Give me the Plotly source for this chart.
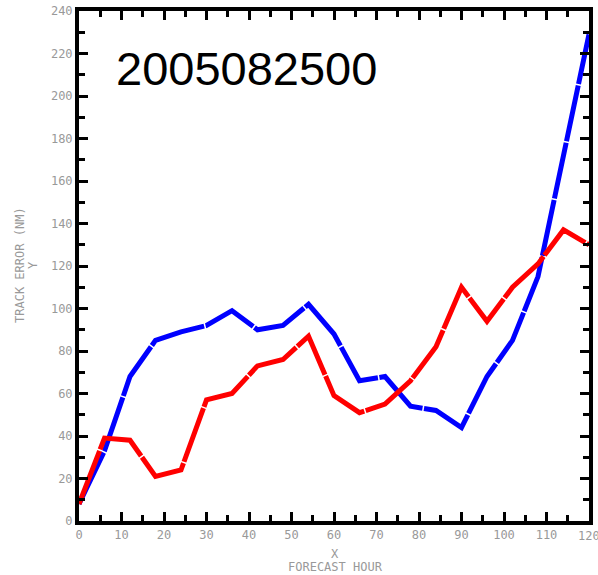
import plotly.graph_objects as go

# Forecast hours and track errors (nautical miles) for the two models
hours = [0, 6, 12, 18, 24, 30, 36, 42, 48, 54, 60, 66, 72, 78, 84, 90, 96, 102, 108, 114, 120]
blue_err = [8, 33, 68, 85, 89, 92, 99, 90, 92, 102, 88, 66, 68, 54, 52, 44, 68, 85, 115, 172, 229]
red_err = [8, 39, 38, 21, 24, 57, 60, 73, 76, 87, 59, 51, 55, 66, 82, 110, 94, 110, 121, 137, 130]

x_ticks = list(range(0, 121, 10))
y_ticks = list(range(0, 241, 20))
title_text = "2005082500"

fig = go.Figure()
fig.add_trace(go.Scatter(x=hours, y=blue_err, mode="lines",
                         line=dict(color="#0000ff", width=5, dash="57px,1.5px"),
                         showlegend=False))
fig.add_trace(go.Scatter(x=hours, y=red_err, mode="lines",
                         line=dict(color="#ff0000", width=5, dash="57px,1.5px"),
                         showlegend=False))

tick_font = dict(family="DejaVu Sans Mono", size=12, color="#999999")
axis_common = dict(showgrid=False, zeroline=False, showline=True, linecolor="black",
                   linewidth=4, mirror="allticks", ticks="inside", ticklen=9,
                   tickwidth=3, tickcolor="black", tickfont=tick_font, automargin=False)

# The last x label sits on the page edge, so it is drawn as an annotation
# (Plotly drops tick labels that overflow the figure).
fig.update_xaxes(range=[0, 120], tickmode="array", tickvals=x_ticks,
                 ticktext=[str(v) if v != x_ticks[-1] else "" for v in x_ticks],
                 minor=dict(dtick=5, ticks="inside", ticklen=6, tickwidth=3, tickcolor="black"),
                 **axis_common)
fig.add_annotation(text=str(x_ticks[-1]), x=x_ticks[-1], xref="x", y=0, yref="paper",
                   xanchor="center", yanchor="top", yshift=-6, showarrow=False,
                   font=tick_font)
fig.update_yaxes(range=[0, 240], tickmode="array", tickvals=y_ticks,
                 ticktext=[str(v) for v in y_ticks],
                 minor=dict(dtick=10, ticks="inside", ticklen=6, tickwidth=3, tickcolor="black"),
                 **axis_common)

label_font = dict(family="DejaVu Sans Mono", size=12, color="#999999")
fig.add_annotation(text="TRACK ERROR (NM)", xref="paper", yref="paper", x=-0.1157, y=0.502,
                   xanchor="center", yanchor="middle", textangle=-90, showarrow=False,
                   font=label_font)
fig.add_annotation(text="Y", xref="paper", yref="paper", x=-0.090, y=0.502,
                   xanchor="center", yanchor="middle", textangle=-90, showarrow=False,
                   font=label_font)
fig.add_annotation(text="X", xref="paper", yref="paper", x=0.502, y=-0.0647,
                   xanchor="center", yanchor="middle", showarrow=False, font=label_font)
fig.add_annotation(text="FORECAST HOUR", xref="paper", yref="paper", x=0.502, y=-0.090,
                   xanchor="center", yanchor="middle", showarrow=False, font=label_font)
fig.add_annotation(text=title_text, xref="paper", yref="paper", x=0.068, y=0.887,
                   xanchor="left", yanchor="middle", showarrow=False,
                   font=dict(family="Liberation Sans", size=47, color="black"))

fig.update_layout(width=598, height=575, plot_bgcolor="white", paper_bgcolor="white",
                  margin=dict(l=79, r=9, t=11, b=54))

fig.write_html("out.html")
